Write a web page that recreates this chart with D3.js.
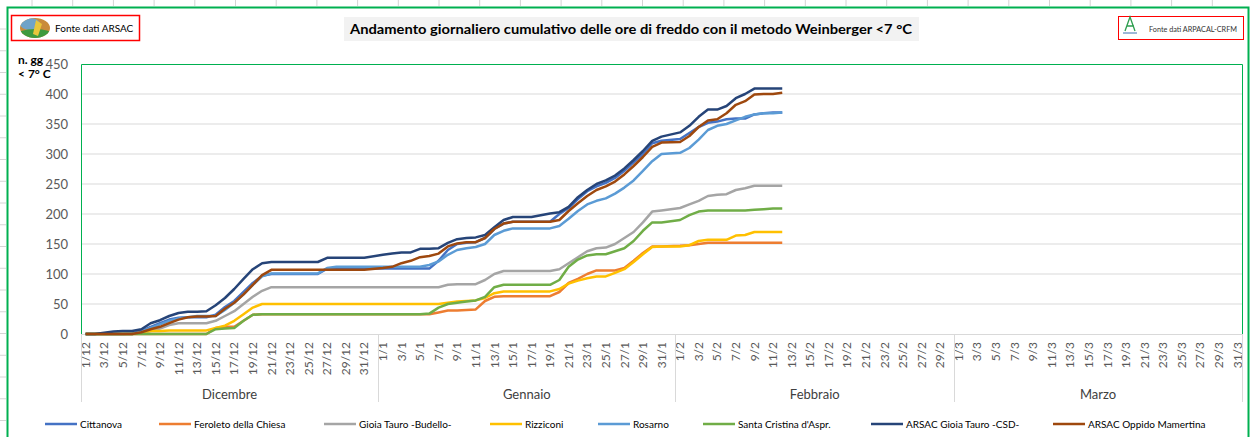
<!DOCTYPE html>
<html>
<head>
<meta charset="utf-8">
<script src="https://cdn.jsdelivr.net/npm/d3@7"></script>
<style>
  body { margin: 0; background: #fff; }
  svg { display: block; font-family: Lato, "Open Sans", sans-serif; }
</style>
</head>
<body>
<svg width="1252" height="437"></svg>
<script>
// Category axis: months (day/month labels, every other day)
var monthNames = ["Dicembre", "Gennaio", "Febbraio", "Marzo"];
var monthNums  = [12, 1, 2, 3];
var monthDays  = [31, 31, 29, 31];

var yTicks = [0, 50, 100, 150, 200, 250, 300, 350, 400, 450];

// Cumulative chill days, from 1/12 to 12/2
var cittanova = [0,0,0,0,0,1,5,12,18,24,27,28,28,28,32,45,55,70,85,97,100,100,100,100,100,100,109,109,109,109,109,
  109,109,109,109,109,109,122,140,150,152,153,160,175,184,187,187,187,187,187,200,210,225,238,246,252,260,272,286,300,318,322,
  325,335,345,352,354,358,359,359,366,368,369,369];
var feroleto = [0,0,0,0,0,0,0,0,0,0,0,0,0,0,10,12,12,22,32,33,33,33,33,33,33,33,33,33,33,33,33,
  33,33,33,33,33,33,36,39,39,40,41,55,62,63,63,63,63,63,63,70,85,92,100,106,106,106,110,122,135,146,146,
  147,148,150,152,152,152,152,152,152,152,152,152];
var gioiaBudello = [0,0,0,0,0,0,2,5,9,15,18,18,18,18,22,30,38,50,62,72,78,78,78,78,78,78,78,78,78,78,78,
  78,78,78,78,78,78,78,82,83,83,83,90,100,105,105,105,105,105,105,108,118,128,138,143,144,150,160,170,186,204,206,
  210,216,222,230,232,233,240,243,247,247,247,247];
var rizziconi = [0,0,0,0,0,0,3,5,5,6,6,6,6,6,10,14,22,33,44,50,50,50,50,50,50,50,50,50,50,50,50,
  50,50,50,50,50,50,50,52,54,55,56,60,68,71,71,71,71,71,71,75,84,89,93,96,96,102,108,120,133,145,146,
  146,148,155,157,157,157,164,165,170,170,170,170];
var rosarno = [0,0,0,0,0,0,4,10,16,22,26,28,30,30,30,40,52,66,82,96,101,101,101,101,101,101,110,112,112,112,112,
  112,112,112,112,112,115,121,132,140,143,145,150,165,172,176,176,176,176,176,180,192,205,216,222,226,234,244,256,272,288,300,
  302,310,324,340,347,350,356,362,366,368,368,369];
var santaCristina = [0,0,0,0,0,0,0,0,0,0,0,0,0,0,8,9,10,22,32,33,33,33,33,33,33,33,33,33,33,33,33,
  33,33,33,33,33,34,44,50,52,54,56,62,78,82,82,82,82,82,82,90,112,124,131,133,133,138,143,155,172,186,186,
  190,198,204,206,206,206,206,206,207,208,209,209];
var arsacGioia = [0,0,2,4,5,5,8,18,23,30,35,37,37,38,48,60,75,92,108,118,120,120,120,120,120,120,127,127,127,127,127,
  132,134,136,136,142,142,143,152,158,160,161,165,178,190,195,195,195,198,201,203,212,228,240,250,256,264,276,290,305,322,329,
  336,347,362,374,374,380,393,400,409,409,409,409];
var arsacOppido = [0,0,0,0,0,0,3,8,12,18,24,28,29,29,30,42,52,66,82,98,107,107,107,107,107,107,107,107,107,107,107,
  110,112,118,122,128,130,134,146,151,153,153,160,175,184,187,187,187,187,187,190,205,218,230,240,246,254,266,280,295,312,319,
  320,330,345,356,358,368,382,388,399,400,400,402];

var seriesNames = ["Cittanova", "Feroleto della Chiesa", "Gioia Tauro -Budello-", "Rizziconi",
                   "Rosarno", "Santa Cristina d'Aspr.", "ARSAC Gioia Tauro -CSD-", "ARSAC Oppido Mamertina"];
var seriesValues = [cittanova, feroleto, gioiaBudello, rizziconi, rosarno, santaCristina, arsacGioia, arsacOppido];
var seriesColors = ["#4472C4", "#ED7D31", "#A5A5A5", "#FFC000", "#5B9BD5", "#70AD47", "#264478", "#9E480E"];

var svg = d3.select("svg"),
    width = +svg.attr("width"),
    height = +svg.attr("height");

var plot = { left: 81, right: 1242, top: 64, bottom: 334 };

// build categories: each day, plus one empty slot closing every month but the last
var cats = [], days = [];
monthNums.forEach(function(m, mi) {
  for (var d = 1; d <= monthDays[mi]; d++) {
    var c = { key: d + "/" + m, day: d, month: mi };
    cats.push(c); days.push(c);
  }
  if (mi < monthNums.length - 1) cats.push({ key: "gap" + m, day: 0, month: mi });
});

var x = d3.scaleBand()
    .domain(cats.map(function(c) { return c.key; }))
    .range([plot.left, plot.right]);
var bw = x.bandwidth();

var y = d3.scaleLinear()
    .domain([0, 450])
    .range([plot.bottom, plot.top]);

// spreadsheet cells peeking out around the chart
var sheet = svg.append("g").attr("stroke", "#d4d4d4");
sheet.selectAll("line.c").data(d3.range(32, width, 40.7)).enter().append("line")
    .attr("x1", function(d) { return d; }).attr("x2", function(d) { return d; })
    .attr("y1", 0).attr("y2", 6);
sheet.selectAll("line.r").data(d3.range(29, height, 21.75)).enter().append("line")
    .attr("x1", 0).attr("x2", 6)
    .attr("y1", function(d) { return d; }).attr("y2", function(d) { return d; });

// chart border
svg.append("rect")
    .attr("x", 7.5).attr("y", 7.5)
    .attr("width", 1241).attr("height", 440)
    .attr("fill", "#fff")
    .attr("stroke", "#00B050").attr("stroke-width", 2);

// logo boxes
var lg = svg.append("g");
lg.append("rect").attr("x", 11.5).attr("y", 15.5).attr("width", 128).attr("height", 25)
    .attr("fill", "none").attr("stroke", "#FF0000").attr("stroke-width", 1.5);
var clip = svg.append("clipPath").attr("id", "logoClip");
clip.append("ellipse").attr("cx", 35).attr("cy", 28).attr("rx", 15).attr("ry", 10);
var logo = lg.append("g").attr("clip-path", "url(#logoClip)");
logo.append("rect").attr("x", 18).attr("y", 16).attr("width", 35).attr("height", 24).attr("fill", "#C98B3A");
logo.append("ellipse").attr("cx", 30).attr("cy", 24).attr("rx", 10).attr("ry", 6).attr("fill", "#6FA3C8");
logo.append("ellipse").attr("cx", 35).attr("cy", 35).attr("rx", 18).attr("ry", 6).attr("fill", "#3E9A3E");
logo.append("path").attr("d", "M36,20 L42,24 L38,36 L33,34 Z").attr("fill", "#E8C63A");
lg.append("text").attr("x", 55).attr("y", 31.5)
    .style("font-size", "10px").style("fill", "#000")
    .text("Fonte dati ARSAC");

lg.append("rect").attr("x", 1118.5).attr("y", 16.5).attr("width", 125).attr("height", 23)
    .attr("fill", "none").attr("stroke", "#FF0000").attr("stroke-width", 1);
lg.append("path").attr("d", "M1125,31 L1130,17 L1135,31 M1127,26 L1134,26")
    .attr("fill", "none").attr("stroke", "#2E9E4F").attr("stroke-width", 1.3);
lg.append("line").attr("x1", 1123).attr("x2", 1137).attr("y1", 33).attr("y2", 33)
    .attr("stroke", "#3A6FB0").attr("stroke-width", 1);
lg.append("text").attr("x", 1149).attr("y", 31.5)
    .attr("textLength", 88).attr("lengthAdjust", "spacingAndGlyphs")
    .style("font-size", "7.5px").style("fill", "#333")
    .text("Fonte dati ARPACAL-CRFM");

// title
svg.append("rect").attr("x", 344).attr("y", 17).attr("width", 575).attr("height", 24).attr("fill", "#F2F2F2");
svg.append("text").attr("x", 350).attr("y", 34)
    .attr("textLength", 562).attr("lengthAdjust", "spacingAndGlyphs")
    .style("font-size", "14px").style("font-weight", "bold").style("fill", "#000")
    .text("Andamento giornaliero cumulativo delle ore di freddo con il metodo Weinberger <7 °C");

// y axis title
var yt = svg.append("text").attr("x", 18).attr("y", 64)
    .style("font-size", "12px").style("font-weight", "bold").style("fill", "#000");
yt.append("tspan").attr("x", 18).text("n. gg");
yt.append("tspan").attr("x", 18).attr("dy", 14).text("< 7° C");

// gridlines
svg.append("g")
    .selectAll("line")
    .data(yTicks.filter(function(d) { return d > 0 && d < 450; }))
    .enter()
    .append("line")
    .attr("x1", plot.left).attr("x2", plot.right)
    .attr("y1", function(d) { return y(d); }).attr("y2", function(d) { return y(d); })
    .attr("stroke", "#D9D9D9").attr("stroke-width", 1);

// plot area border
svg.append("path")
    .attr("d", "M" + (plot.left + 0.5) + "," + plot.bottom + "V" + (plot.top + 0.5) +
               "H" + (plot.right + 0.5) + "V" + plot.bottom)
    .attr("fill", "none").attr("stroke", "#00B050").attr("stroke-width", 1);

// y axis
var yAxis = svg.append("g")
    .attr("transform", "translate(" + plot.left + ",0)")
    .call(d3.axisLeft(y).tickValues(yTicks).tickSize(0).tickPadding(13));
yAxis.select(".domain").remove();
yAxis.selectAll("text")
    .style("font-size", "13px").style("fill", "#595959").style("font-family", "Lato, sans-serif");

// x axis with rotated day labels
var labelled = days.filter(function(d) { return d.day % 2 === 1; });
var xAxis = svg.append("g")
    .attr("transform", "translate(0," + plot.bottom + ")")
    .call(d3.axisBottom(x)
        .tickValues(labelled.map(function(d) { return d.key; }))
        .tickSize(0));
xAxis.select(".domain").remove();
xAxis.selectAll("text")
    .attr("transform", "rotate(-90)")
    .attr("x", -8).attr("y", 0).attr("dy", "0.35em")
    .attr("text-anchor", "end")
    .style("font-size", "12px").style("fill", "#595959").style("font-family", "Lato, sans-serif");

svg.append("line")
    .attr("x1", plot.left).attr("x2", plot.right + 1)
    .attr("y1", plot.bottom + 0.5).attr("y2", plot.bottom + 0.5)
    .attr("stroke", "#D9D9D9");

// month separators and names
var monthStarts = monthNums.map(function(m) { return x("1/" + m); });
monthStarts.push(plot.right);
svg.append("g")
    .selectAll("line")
    .data(monthStarts)
    .enter()
    .append("line")
    .attr("x1", function(d) { return Math.round(d) + 0.5; })
    .attr("x2", function(d) { return Math.round(d) + 0.5; })
    .attr("y1", plot.bottom).attr("y2", 402)
    .attr("stroke", "#D9D9D9");

svg.append("g")
    .selectAll("text")
    .data(monthNames)
    .enter()
    .append("text")
    .attr("x", function(d, i) { return (monthStarts[i] + monthStarts[i + 1]) / 2; })
    .attr("y", 399)
    .attr("text-anchor", "middle")
    .style("font-size", "13px").style("fill", "#404040")
    .text(function(d) { return d; });

// series lines
var line = d3.line()
    .x(function(d) { return x(d.key) + bw / 2; })
    .y(function(d) { return y(d.v); });

svg.append("g")
    .selectAll("path")
    .data(seriesValues)
    .enter()
    .append("path")
    .attr("d", function(vals) {
      return line(vals.map(function(v, i) { return { key: days[i].key, v: v }; }));
    })
    .attr("fill", "none")
    .attr("stroke", function(d, i) { return seriesColors[i]; })
    .attr("stroke-width", 2.5)
    .attr("stroke-linejoin", "round");

// legend
var legendX = [45, 159, 324, 490, 598, 703, 871, 1053];
var leg = svg.append("g")
    .selectAll("g")
    .data(seriesNames)
    .enter()
    .append("g")
    .attr("transform", function(d, i) { return "translate(" + legendX[i] + ",424)"; });
leg.append("line")
    .attr("x1", 0).attr("x2", 32)
    .attr("stroke", function(d, i) { return seriesColors[i]; })
    .attr("stroke-width", 2.5);
leg.append("text")
    .attr("x", 35).attr("dy", "0.35em")
    .style("font-size", "10px").style("fill", "#000")
    .text(function(d) { return d; });
</script>
</body>
</html>
